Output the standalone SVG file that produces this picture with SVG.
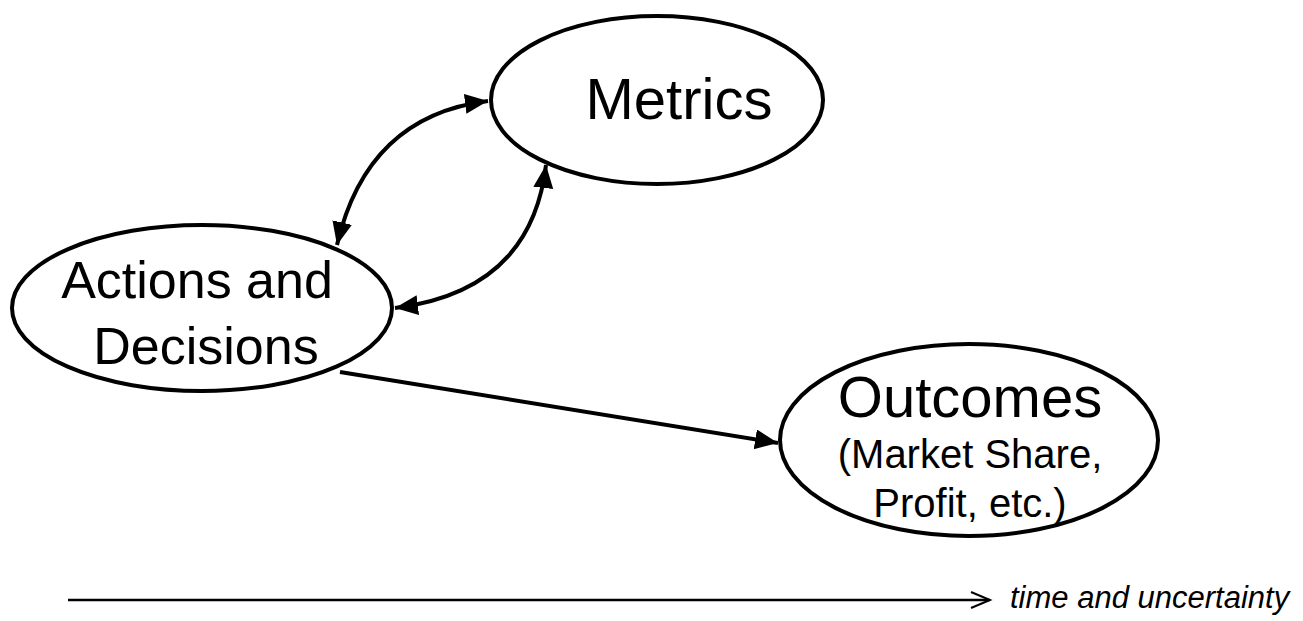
<svg xmlns="http://www.w3.org/2000/svg" width="1303" height="621" viewBox="0 0 1303 621">
<defs>
<marker id="ah" markerUnits="userSpaceOnUse" markerWidth="26" markerHeight="22" refX="23" refY="10" orient="auto-start-reverse">
<path d="M0,0 L23,10 L0,20 z" fill="#000"/>
</marker>
<marker id="open" markerUnits="userSpaceOnUse" markerWidth="24" markerHeight="22" refX="20" refY="10" orient="auto">
<path d="M1,2 L20,10 L1,18" fill="none" stroke="#000" stroke-width="2"/>
</marker>
</defs>
<style>
.node ellipse{fill:#fff;stroke:#000;stroke-width:4}
text{font-family:"Liberation Sans",Arial,sans-serif;fill:#000;text-anchor:middle}
.conn path{fill:none;stroke:#000;stroke-width:4}
</style>
<g id="metrics" class="node">
<ellipse cx="657" cy="100" rx="166" ry="84"/>
<text x="679" y="119" font-size="58">Metrics</text>
</g>
<g id="actions" class="node">
<ellipse cx="202" cy="308" rx="190" ry="83"/>
<text x="197" y="298" font-size="52">Actions and</text>
<text x="206" y="364" font-size="52">Decisions</text>
</g>
<g id="outcomes" class="node">
<ellipse cx="969" cy="440" rx="189" ry="96"/>
<text x="970" y="417" font-size="58">Outcomes</text>
<text x="970" y="468" font-size="40">(Market Share,</text>
<text x="970" y="517" font-size="40">Profit, etc.)</text>
</g>
<g id="connectors" class="conn">
<path d="M488,101 Q367,116 337,245" marker-start="url(#ah)" marker-end="url(#ah)"/>
<path d="M395,308 Q531,291 546,165" marker-start="url(#ah)" marker-end="url(#ah)"/>
<path d="M340,372 L778,443" marker-end="url(#ah)"/>
</g>
<g id="timeline">
<path d="M68,600 L990,600" fill="none" stroke="#000" stroke-width="2.5" marker-end="url(#open)"/>
<text x="1010" y="608" font-size="31" font-style="italic" style="text-anchor:start">time and uncertainty</text>
</g>
</svg>
